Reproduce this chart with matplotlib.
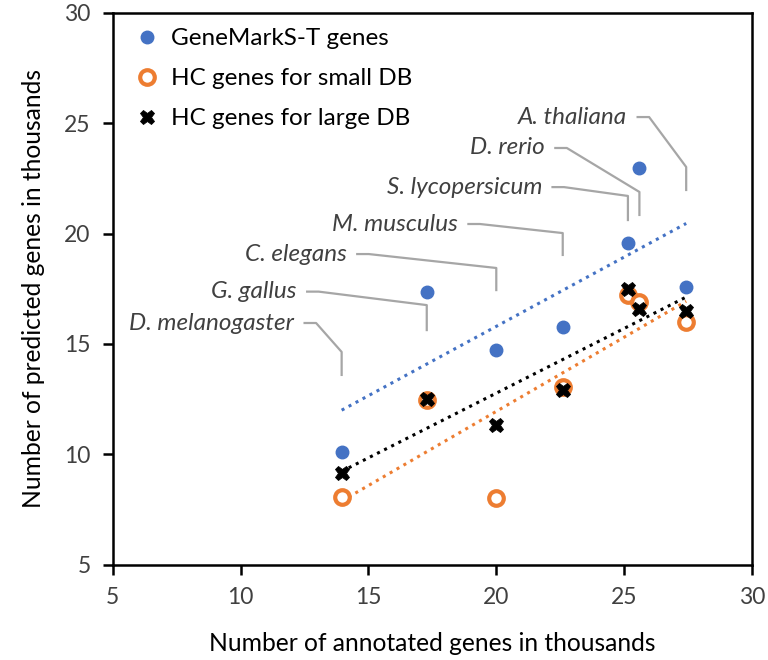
import numpy as np
import matplotlib
matplotlib.use('Agg')
import matplotlib.pyplot as plt

plt.rcParams['font.family'] = ['Lato', 'DejaVu Sans']

# annotated genes (thousands), one per species
species = ['D. melanogaster', 'G. gallus', 'C. elegans', 'M. musculus',
           'S. lycopersicum', 'D. rerio', 'A. thaliana']
annotated = [13.95, 17.28, 20.0, 22.6, 25.15, 25.6, 27.43]

gms_t = [10.13, 17.37, 14.73, 15.78, 19.56, 22.95, 17.59]
hc_small = [8.06, 12.47, 8.02, 13.04, 17.22, 16.89, 16.01]
hc_large = [9.18, 12.50, 11.33, 12.92, 17.47, 16.57, 16.49]

# label layout: text right edge (x, y), elbow y, leader end y
label_pos = [(12.10, 15.95, 14.64, 13.60),
             (12.20, 17.37, 16.76, 15.63),
             (14.16, 19.07, 18.44, 17.44),
             (18.51, 20.43, 20.02, 19.03),
             (21.80, 22.10, 21.70, 20.61),
             (21.91, 23.87, 21.88, 20.84),
             (25.13, 25.27, 23.01, 21.97)]

BLUE = '#4472C4'
ORANGE = '#ED7D31'
DPI = 100

fig = plt.figure(figsize=(7.68, 6.6), dpi=DPI)
ax = fig.add_axes([0.147, 0.144, 0.832, 0.837])

x = np.array(annotated)
for ys, col in [(gms_t, BLUE), (hc_small, ORANGE), (hc_large, 'black')]:
    k, b = np.polyfit(x, ys, 1)
    xs = np.array([x.min(), x.max()])
    ax.plot(xs, k * xs + b, linestyle=(0, (1, 1.6)), color=col, linewidth=2.2, zorder=2)

ax.plot(annotated, gms_t, 'o', color=BLUE, markersize=9, label='GeneMarkS-T genes', zorder=3)
ax.plot(annotated, hc_small, 'o', markerfacecolor='white', markeredgecolor=ORANGE,
        markeredgewidth=3, markersize=10.5, label='HC genes for small DB', zorder=4)
ax.plot(annotated, hc_large, 'X', color='black', markersize=10.5, markeredgewidth=0.6,
        label='HC genes for large DB', zorder=5)

for name, xp, (tx, ty, ey, endy) in zip(species, annotated, label_pos):
    ax.text(tx, ty, name, ha='right', va='center', style='italic', fontsize=17.5,
            color='#404040')
    ax.plot([tx + 0.4, tx + 0.85, xp, xp], [ty, ty, ey, endy], color='#A6A6A6',
            linewidth=1.6, zorder=1)

ax.set_xlim(5, 30)
ax.set_ylim(5, 30)
ax.set_xticks([5, 10, 15, 20, 25, 30])
ax.set_yticks([5, 10, 15, 20, 25, 30])
ax.tick_params(labelsize=16.5, length=7, width=1.8, direction='out', pad=9,
               color='black', labelcolor='#404040')
for s in ax.spines.values():
    s.set_linewidth(1.8)
ax.set_xlabel('Number of annotated genes in thousands', fontsize=17.7, labelpad=17)
ax.set_ylabel('Number of predicted genes in thousands', fontsize=17.7, labelpad=14)

ax.legend(loc='upper left', frameon=False, fontsize=17.5, handletextpad=0.25,
          labelspacing=0.78, borderaxespad=0.25, handlelength=1.5)

plt.savefig('out.png', dpi=DPI)
